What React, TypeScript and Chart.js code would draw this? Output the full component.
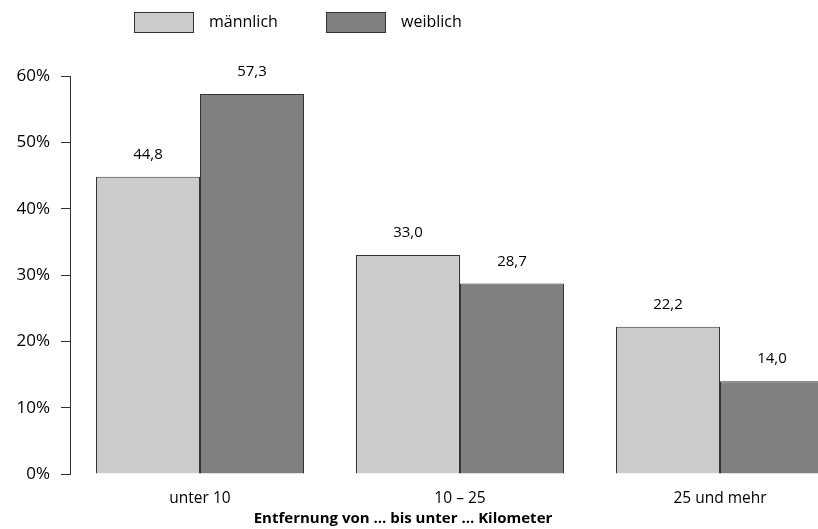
import React, { useEffect, useRef } from "react";
import { Chart, registerables } from "chart.js";

Chart.register(...registerables);

const categories = ["unter 10", "10 – 25", "25 und mehr"];
const maleValues = [44.8, 33.0, 22.2];
const femaleValues = [57.3, 28.7, 14.0];
const seriesLabels = ["männlich", "weiblich"];
const yTicks = [0, 10, 20, 30, 40, 50, 60];
const xTitle = "Entfernung von … bis unter … Kilometer";

const FONT = "'Open Sans', 'Noto Sans', sans-serif";
const MALE_COLOR = "#cccccc";
const FEMALE_COLOR = "#808080";
const BORDER = "#333333";

const fmt = (v: number) => v.toFixed(1).replace(".", ",");

const valueLabelPlugin = {
  id: "valueLabels",
  afterDatasetsDraw(chart: any) {
    const ctx = chart.ctx;
    ctx.save();
    ctx.font = `15px ${FONT}`;
    ctx.fillStyle = "#000";
    ctx.textAlign = "center";
    ctx.textBaseline = "middle";
    chart.data.datasets.forEach((ds: any, i: number) => {
      const meta = chart.getDatasetMeta(i);
      meta.data.forEach((bar: any, j: number) => {
        ctx.fillText(fmt(ds.data[j]), bar.x, bar.y - 22);
      });
    });
    ctx.restore();
  },
};

const legendPlugin = {
  id: "customLegend",
  afterDraw(chart: any) {
    const ctx = chart.ctx;
    ctx.save();
    const items = [
      { x: 134, tx: 209 },
      { x: 326, tx: 401 },
    ];
    chart.data.datasets.forEach((ds: any, i: number) => {
      const it = items[i];
      ctx.fillStyle = ds.backgroundColor;
      ctx.fillRect(it.x, 12.5, 59, 20);
      ctx.strokeStyle = BORDER;
      ctx.lineWidth = 1;
      ctx.strokeRect(it.x + 0.5, 12.5, 59, 20);
      ctx.fillStyle = "#000";
      ctx.font = `16px ${FONT}`;
      ctx.textAlign = "left";
      ctx.textBaseline = "middle";
      ctx.fillText(ds.label, it.tx, 22.5);
    });
    ctx.restore();
  },
};

const titlePlugin = {
  id: "bottomTitle",
  afterDraw(chart: any) {
    const ctx = chart.ctx;
    ctx.save();
    ctx.font = `bold 15px ${FONT}`;
    ctx.fillStyle = "#000";
    ctx.textAlign = "center";
    ctx.textBaseline = "middle";
    ctx.fillText(xTitle, 403, 519);
    ctx.restore();
  },
};

export default function App() {
  const ref = useRef<HTMLCanvasElement | null>(null);

  useEffect(() => {
    if (!ref.current) return;
    const chart = new Chart(ref.current, {
      type: "bar",
      data: {
        labels: categories,
        datasets: [
          {
            label: seriesLabels[0],
            data: maleValues,
            backgroundColor: MALE_COLOR,
            borderColor: BORDER,
            borderWidth: 1,
          },
          {
            label: seriesLabels[1],
            data: femaleValues,
            backgroundColor: FEMALE_COLOR,
            borderColor: BORDER,
            borderWidth: 1,
          },
        ],
      },
      options: {
        responsive: false,
        animation: false,
        layout: { padding: { top: 76, left: 0, right: 0, bottom: 0 } },
        plugins: {
          legend: { display: false },
          tooltip: { enabled: false },
        },
        datasets: {
          bar: { categoryPercentage: 0.8, barPercentage: 1.0 },
        },
        scales: {
          x: {
            type: "category",
            grid: { display: false },
            border: { display: false },
            ticks: {
              font: { family: FONT, size: 15.5 },
              color: "#000",
              padding: 7,
              maxRotation: 0,
            },
            afterFit: (scale: any) => {
              scale.height = 55;
            },
          },
          y: {
            min: 0,
            max: 60,
            afterBuildTicks: (scale: any) => {
              scale.ticks = yTicks.map((v) => ({ value: v }));
            },
            grid: {
              drawOnChartArea: false,
              drawTicks: true,
              tickLength: 9,
              color: BORDER,
            },
            border: { display: true, color: BORDER, width: 1 },
            ticks: {
              font: { family: FONT, size: 17 },
              color: "#000",
              padding: 11,
              callback: (v: any) => `${v}%`,
            },
            afterFit: (scale: any) => {
              scale.width = 70;
            },
          },
        },
      },
      plugins: [valueLabelPlugin, legendPlugin, titlePlugin],
    });
    return () => chart.destroy();
  }, []);

  return (
    <div
      style={{
        position: "fixed",
        left: 0,
        top: 0,
        width: 818,
        height: 529,
        overflow: "hidden",
        background: "#fff",
      }}
    >
      <canvas
        ref={ref}
        width={850}
        height={529}
        style={{ position: "absolute", left: 0, top: 0, width: 850, height: 529 }}
      />
    </div>
  );
}
